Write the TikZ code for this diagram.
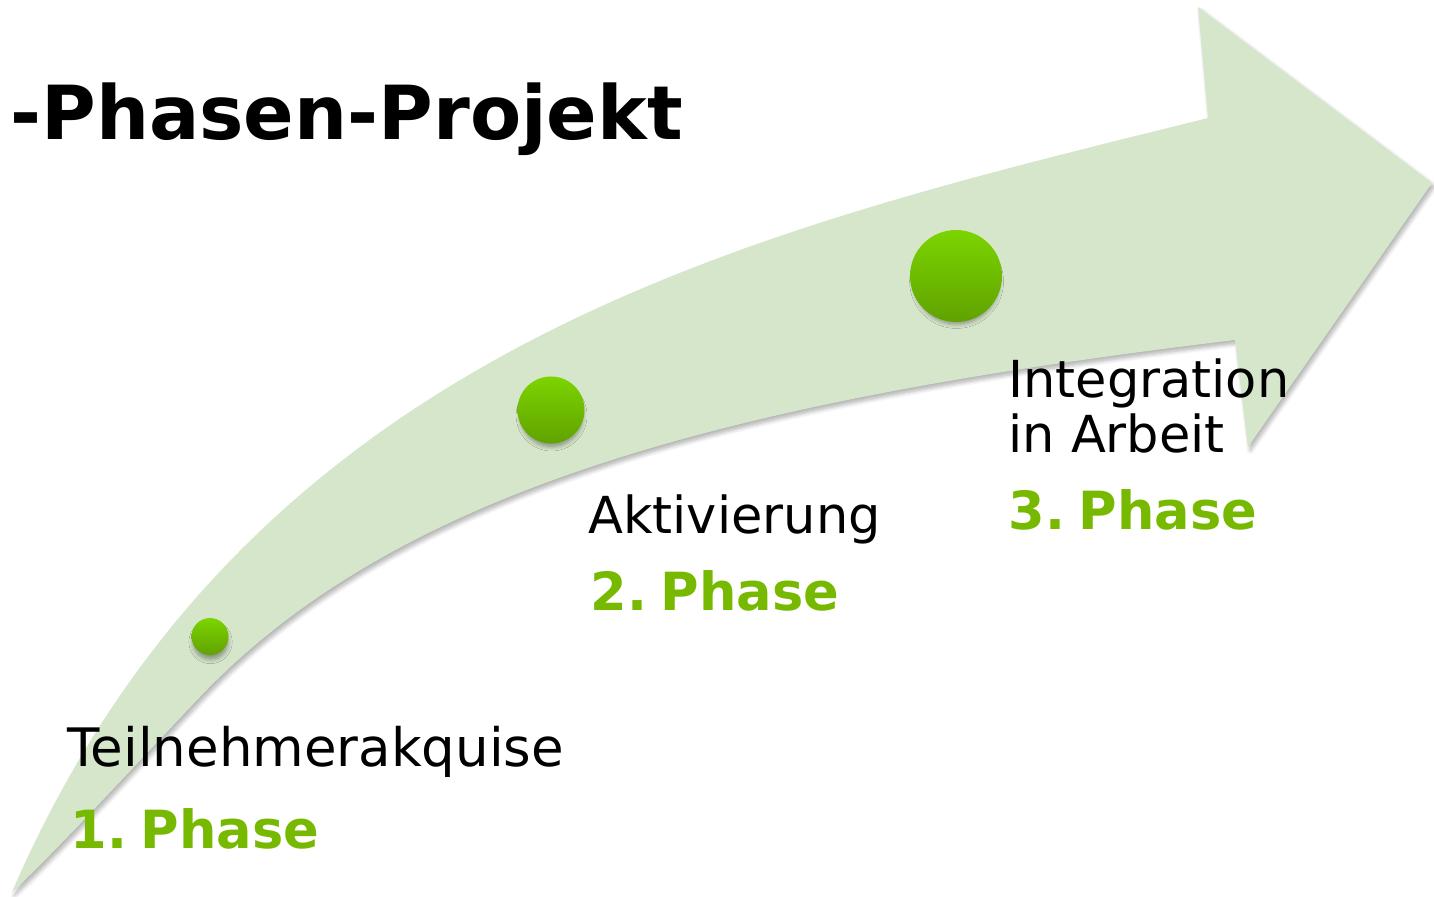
\documentclass[tikz,border=0pt]{standalone}
\usepackage{fontspec}
\setmainfont{DejaVu Sans}
\usetikzlibrary{shadows.blur}
\definecolor{band}{RGB}{214,230,203}
\definecolor{phasegreen}{RGB}{118,185,0}
\definecolor{balltop}{RGB}{124,212,0}
\definecolor{ballbot}{RGB}{96,162,0}
\tikzset{
  ball/.style={circle, inner sep=0pt, top color=balltop, bottom color=ballbot, draw=none,
    blur shadow={shadow xshift=0.3pt, shadow yshift=-3pt, shadow scale=0.92, shadow opacity=40, shadow blur steps=8, shadow blur radius=2.5pt}},
  lbl/.style={anchor=base west, inner sep=0pt, text=black, font=\fontsize{25.5pt}{30pt}\selectfont},
  phase/.style={anchor=base west, inner sep=0pt, text=phasegreen, font=\fontsize{26.3pt}{30pt}\selectfont\bfseries},
}
\begin{document}
\begin{tikzpicture}[x=0.5pt,y=-0.5pt]
\useasboundingbox (0,0) rectangle (1434,897);
% arrow band
\fill[band, blur shadow={shadow xshift=1.2pt, shadow yshift=-1.8pt, shadow opacity=30, shadow blur steps=6, shadow blur radius=2pt}]
  (12,892) .. controls (250,342) and (758,230) .. (1208,118)
  -- (1198,7) -- (1432,183) -- (1248,447) -- (1235,340)
  .. controls (735,400) and (400,487) .. (200,697)
  .. controls (140,760) and (50,858) .. (12,892) -- cycle;
% balls
\node[ball, minimum size=18.5pt] (b1) at (210,636.5) {};
\node[ball, minimum size=33.5pt] (b2) at (551,410) {};
\node[ball, minimum size=46pt] (b3) at (956,276) {};
% title
\node[anchor=base west, inner sep=0pt, font=\fontsize{37.3pt}{40pt}\selectfont\bfseries] (title) at (10,140) {-Phasen-Projekt};
% labels
\node[lbl, font=\fontsize{26.5pt}{30pt}\selectfont] (t1) at (67,766) {Teilnehmerakquise};
\node[phase] (p1) at (70,848) {1.\kern-0.2em{} Phase};
\node[lbl] (t2) at (588,533) {Aktivierung};
\node[phase] (p2) at (590,610) {2.\kern-0.2em{} Phase};
\node[lbl] (t3a) at (1008,398) {Integration};
\node[lbl] (t3b) at (1008,453) {in Arbeit};
\node[phase] (p3) at (1008,530) {3.\kern-0.2em{} Phase};
\end{tikzpicture}
\end{document}
